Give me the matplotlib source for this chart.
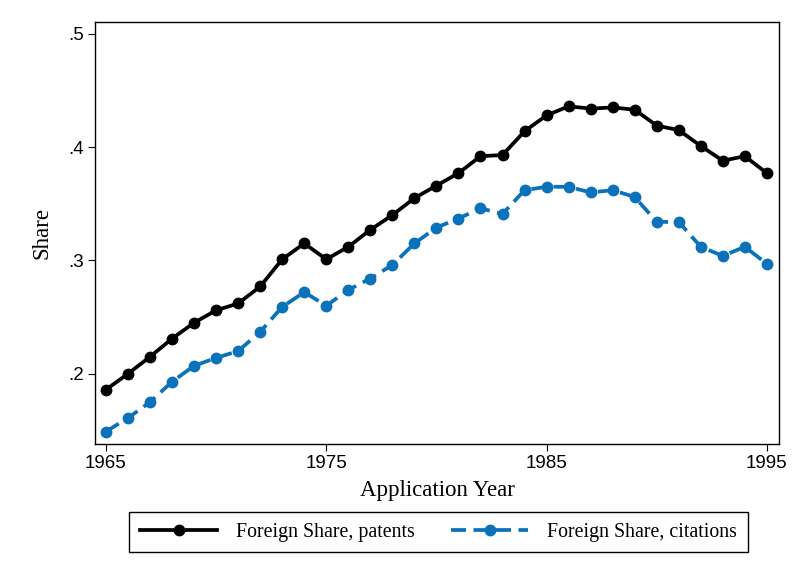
import matplotlib
import matplotlib.pyplot as plt

years = list(range(1965, 1996))
patents = [0.186, 0.200, 0.215, 0.231, 0.245, 0.256, 0.262, 0.277, 0.301, 0.315,
           0.301, 0.312, 0.327, 0.340, 0.355, 0.366, 0.377, 0.392, 0.393, 0.414,
           0.428, 0.436, 0.434, 0.435, 0.433, 0.419, 0.415, 0.401, 0.388, 0.392,
           0.377]
citations = [0.149, 0.161, 0.175, 0.193, 0.207, 0.214, 0.220, 0.237, 0.259, 0.272,
             0.260, 0.274, 0.284, 0.296, 0.315, 0.329, 0.337, 0.346, 0.341, 0.362,
             0.365, 0.365, 0.360, 0.362, 0.356, 0.334, 0.334, 0.312, 0.304, 0.312,
             0.297]
xticks = [1965, 1975, 1985, 1995]
yticks = [0.2, 0.3, 0.4, 0.5]
ytick_labels = [".2", ".3", ".4", ".5"]

serif = "Liberation Serif"
sans = "Liberation Sans"
blue = "#0a72ba"

fig = plt.figure(figsize=(8.09, 5.81), dpi=100)
ax = fig.add_axes([0.1174, 0.2358, 0.9629 - 0.1174, 0.9627 - 0.2358])

ax.plot(years, patents, color="black", lw=2.7, marker="o", ms=7.5,
        label="Foreign Share, patents")
ax.plot(years, citations, color=blue, lw=2.7, ls=(0, (4, 2)), marker="o", ms=7.5,
        label="Foreign Share, citations")

ax.set_xlim(1964.5, 1995.55)
ax.set_ylim(0.138, 0.5107)
ax.set_xticks(xticks)
ax.set_yticks(yticks)
ax.set_yticklabels(ytick_labels)
ax.tick_params(labelsize=13.5, length=5, width=0.8, pad=3)
for lab in ax.get_xticklabels() + ax.get_yticklabels():
    lab.set_fontfamily(sans)
for s in ax.spines.values():
    s.set_linewidth(1.0)

ax.set_xlabel("Application Year", fontfamily=serif, fontsize=16.5, labelpad=6)
ax.set_ylabel("Share", fontfamily=serif, fontsize=16.5, labelpad=11)

fig.legend(loc="center", bbox_to_anchor=(0.542, 0.0843), ncol=2,
           prop={"family": serif, "size": 14.3}, frameon=True, fancybox=False,
           edgecolor="black", framealpha=1, handlelength=3.9,
           columnspacing=1.8, handletextpad=0.95, borderpad=0.55)

plt.savefig("out.png")
